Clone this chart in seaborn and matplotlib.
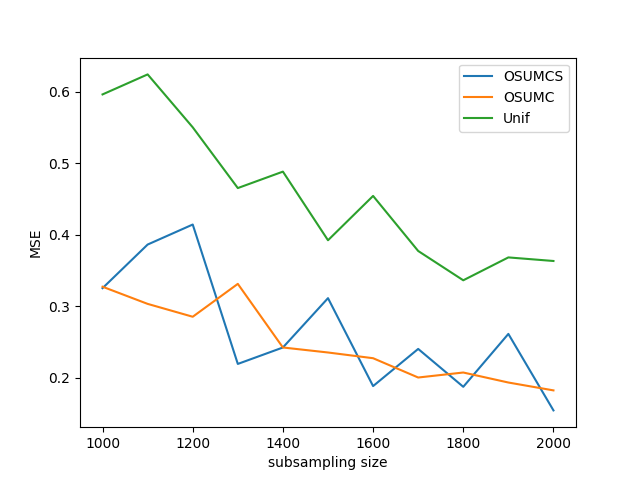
import numpy as np
import seaborn as sns
import matplotlib.pyplot as plt

sizes = [1000, 1100, 1200, 1300, 1400, 1500, 1600, 1700, 1800, 1900, 2000]
osumcs = [0.325, 0.386, 0.414, 0.219, 0.242, 0.311, 0.188, 0.240, 0.187, 0.261, 0.154]
osumc = [0.327, 0.303, 0.285, 0.331, 0.242, 0.235, 0.227, 0.200, 0.207, 0.193, 0.182]
unif = [0.596, 0.624, 0.550, 0.465, 0.488, 0.392, 0.454, 0.377, 0.336, 0.368, 0.363]

fig, ax = plt.subplots(figsize=(6.4, 4.8), dpi=100)
colors = sns.color_palette('tab10')

sns.lineplot(x=sizes, y=osumcs, label='OSUMCS', color=colors[0], ax=ax)
sns.lineplot(x=sizes, y=osumc, label='OSUMC', color=colors[1], ax=ax)
sns.lineplot(x=sizes, y=unif, label='Unif', color=colors[2], ax=ax)

ax.set_xlabel('subsampling size')
ax.set_ylabel('MSE')
ax.legend(loc='upper right')

plt.savefig('out.png', dpi=100)
